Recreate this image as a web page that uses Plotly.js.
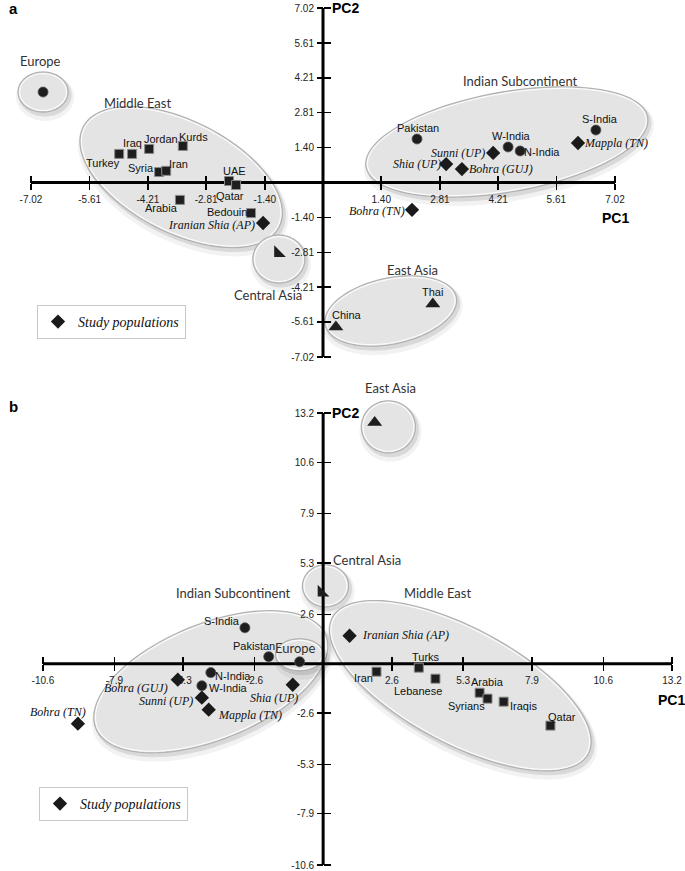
<!DOCTYPE html>
<html>
<head>
<meta charset="utf-8">
<script src="https://cdn.plot.ly/plotly-3.0.1.min.js"></script>
<style>
  html, body { margin: 0; padding: 0; background: #fff; }
  #chart { width: 685px; height: 871px; }
</style>
</head>
<body>
<div id="chart"></div>
<script>
const W = 685, H = 871;

// ---------- panel a ----------
const aTicks = ["-7.02", "-5.61", "-4.21", "-2.81", "-1.40", "1.40", "2.81", "4.21", "5.61", "7.02"];

const aSquareNames = ["Turkey", "Iraq", "Jordan", "Kurds", "Syria", "Iran", "UAE", "Qatar", "Arabia", "Bedouin"];
const aSquarePC1 = [-4.90, -4.59, -4.18, -3.37, -3.94, -3.77, -2.26, -2.09, -3.44, -1.73];
const aSquarePC2 = [1.15, 1.15, 1.35, 1.47, 0.42, 0.47, 0.06, -0.10, -0.70, -1.23];

const aCircleNames = ["Europe", "Pakistan", "W-India", "N-India", "S-India"];
const aCirclePC1 = [-6.73, 2.26, 4.45, 4.74, 6.56];
const aCirclePC2 = [3.64, 1.75, 1.43, 1.27, 2.11];

const aTriNames = ["China", "Thai"];
const aTriPC1 = [0.31, 2.64];
const aTriPC2 = [-5.81, -4.89];

const aCentralPC1 = [-1.08];
const aCentralPC2 = [-2.84];

const aStudyNames = ["Iranian Shia (AP)", "Bohra (TN)", "Mappla (TN)", "Sunni (UP)", "Shia (UP)", "Bohra (GUJ)"];
const aStudyPC1 = [-1.44, 2.14, 6.13, 4.09, 2.96, 3.34];
const aStudyPC2 = [-1.63, -1.10, 1.59, 1.19, 0.74, 0.54];

// ---------- panel b ----------
const bTicks = ["-10.6", "-7.9", "-5.3", "-2.6", "2.6", "5.3", "7.9", "10.6", "13.2"];

const bSquareNames = ["Iran", "Turks", "Lebanese", "Arabia", "Syrians", "Iraqis", "Qatar"];
const bSquarePC1 = [2.02, 3.62, 4.25, 5.92, 6.22, 6.83, 8.60];
const bSquarePC2 = [-0.42, -0.21, -0.79, -1.53, -1.84, -2.00, -3.26];

const bCircleNames = ["Europe", "Pakistan", "S-India", "N-India", "W-India"];
const bCirclePC1 = [-0.89, -2.06, -2.96, -4.25, -4.59];
const bCirclePC2 = [0.10, 0.37, 1.89, -0.47, -1.16];

const bTriPC1 = [1.95];
const bTriPC2 = [12.70];

const bCentralPC1 = [-0.06];
const bCentralPC2 = [3.74];

const bStudyNames = ["Iranian Shia (AP)", "Bohra (GUJ)", "Sunni (UP)", "Mappla (TN)", "Shia (UP)", "Bohra (TN)"];
const bStudyPC1 = [1.00, -5.50, -4.59, -4.33, -1.15, -9.28];
const bStudyPC2 = [1.47, -0.84, -1.79, -2.42, -1.11, -3.16];

// label offsets from each marker, in pixels [right, down] (kept apart from the values)
const aSquareOff = [[-16, 9], [0, -11], [12, -10], [11, -9], [-18, -4], [12, -7], [6, -10], [-6, 11], [-18, 8], [-24, -1]];
const aCircleOff = [[0, 0], [1, -11], [3, -11], [22, 1], [4, -11]];
const aTriOff = [[11, -12], [0, -12]];
const aStudyOff = [[-52, 2], [-35, 1], [38, 0], [-35, 0], [-29, 0], [39, 0]];
const bSquareOff = [[-13, 6], [7, -11], [-17, 12], [8, -11], [-21, 7], [20, 4], [12, -9]];
const bCircleOff = [[0, 0], [-15, -11], [-23, -7], [22, 3], [27, 2]];
const bStudyOff = [[56, -1], [-42, 8], [-36, 3], [41, 5], [-19, 13], [-20, -12]];

// group areas: centre in data units, half-axes in pixels, tilt in degrees
const aRegions = [
  { name: "Europe", cx: -6.73, cy: 3.64, rx: 25, ry: 20, tilt: 0, lx: -6.80, ly: 4.89 },
  { name: "Middle East", cx: -3.41, cy: 0.22, rx: 110, ry: 56, tilt: 27, lx: -4.45, ly: 3.20 },
  { name: "Indian Subcontinent", cx: 4.42, cy: 1.63, rx: 143, ry: 50, tilt: -10, lx: 4.74, ly: 4.08 },
  { name: "Central Asia", cx: -1.06, cy: -3.08, rx: 26, ry: 24, tilt: 0, lx: -1.32, ly: -4.53 },
  { name: "East Asia", cx: 1.63, cy: -5.17, rx: 67, ry: 33, tilt: -12, lx: 2.16, ly: -3.52 }
];
const bRegions = [
  { name: "East Asia", cx: 2.47, cy: 12.47, rx: 27, ry: 26, tilt: 0, lx: 2.55, ly: 14.53 },
  { name: "Central Asia", cx: 0.09, cy: 4.10, rx: 23, ry: 21, tilt: 0, lx: 0.28, ly: 5.47, align: "left" },
  { name: "Indian Subcontinent", cx: -4.25, cy: -0.95, rx: 124, ry: 58, tilt: -22, lx: -3.38, ly: 3.74 },
  { name: "Middle East", cx: 5.19, cy: -1.16, rx: 145, ry: 58, tilt: 28, lx: 4.33, ly: 3.74 },
  { name: "Europe", cx: -0.89, cy: 0.47, rx: 24, ry: 16, tilt: 0, lx: -1.04, ly: 0.84 }
];

// pixel frame of each panel: where the end ticks sit and the vertical box of the panel
const A = { xPx: [31, 615], yPx: [357, 8], box: [0, 380] };
const B = { xPx: [43, 672], yPx: [865, 413], box: [385, 871] };

function xRange(ticks, px) {
  const lo = Number(ticks[0]), hi = Number(ticks.at(-1));
  const k = (px[1] - px[0]) / (hi - lo);
  return [lo - px[0] / k, hi + (W - px[1]) / k];
}
function yRange(ticks, px, box) {
  const lo = Number(ticks[0]), hi = Number(ticks.at(-1));
  const k = (px[0] - px[1]) / (hi - lo);
  return [lo - (box[1] - px[0]) / k, hi + (px[1] - box[0]) / k];
}

const sans = "Liberation Sans, Arial, sans-serif";
const tickFont = { family: sans, size: 10, color: "#222" };
function axis(range, ticks, position, inside, extra = {}) {
  return {
    range, anchor: "free", position,
    tickmode: "array", tickvals: ticks.map(Number), ticktext: ticks,
    ticks: inside ? "inside" : "outside", ticklen: inside ? 7 : 6, tickwidth: 1.5, tickcolor: "#000",
    showticklabels: !inside, tickfont: tickFont, ticklabelstandoff: 1,
    showgrid: false, zeroline: false, showline: false, fixedrange: true,
    ...extra
  };
}

function ellipsePath(rx, ry, tilt, dx = 0, dy = 0) {
  const t = tilt * Math.PI / 180, c = Math.cos(t), s = Math.sin(t);
  let d = "";
  for (let i = 0; i <= 96; i++) {
    const u = i / 96 * 2 * Math.PI;
    const ex = rx * Math.cos(u), ey = ry * Math.sin(u);
    const x = ex * c - ey * s + dx;
    const yScreen = ex * s + ey * c + dy;
    d += (i ? "L" : "M") + x.toFixed(2) + "," + (-yScreen).toFixed(2);
  }
  return d + "Z";
}

function regionShapes(regions, xref, yref) {
  const out = [];
  regions.forEach(r => {
    const base = { type: "path", xref, yref, xsizemode: "pixel", ysizemode: "pixel", xanchor: r.cx, yanchor: r.cy, layer: "below" };
    out.push({ ...base, path: ellipsePath(r.rx + 4, r.ry + 4, r.tilt, 2, 5), fillcolor: "rgba(0,0,0,0.05)", line: { width: 0 } });
    out.push({ ...base, path: ellipsePath(r.rx + 1.5, r.ry + 1.5, r.tilt, 2, 3), fillcolor: "rgba(0,0,0,0.10)", line: { width: 0 } });
    out.push({ ...base, path: ellipsePath(r.rx, r.ry, r.tilt), fillcolor: "#e4e4e4", line: { color: "#b2b2b2", width: 1.3 } });
    out.push({ ...base, path: ellipsePath(r.rx - 1.6, r.ry - 1.6, r.tilt), fillcolor: "rgba(0,0,0,0)", line: { color: "#fbfbfb", width: 1.2 } });
  });
  return out;
}

function axisLines(ticks, xref, yref) {
  const lo = Number(ticks[0]), hi = Number(ticks.at(-1));
  return [
    { type: "line", xref, yref, x0: lo, x1: hi, y0: 0, y1: 0, line: { color: "#000", width: 3 }, layer: "below" },
    { type: "line", xref, yref, x0: 0, x1: 0, y0: lo, y1: hi, line: { color: "#000", width: 3 }, layer: "below" }
  ];
}

function regionLabels(regions, xref, yref) {
  return regions.map(r => ({
    x: r.lx, y: r.ly, xref, yref, text: r.name, showarrow: false,
    xanchor: r.align || "center", yanchor: "middle",
    font: { family: "Lato, Open Sans, sans-serif", size: 13, color: "#333" }
  }));
}

const refFont = { family: sans, size: 11, color: "#111" };
const studyFont = { family: "Liberation Serif, Times New Roman, serif", size: 12, color: "#111", style: "italic" };
const markers = {
  square: { symbol: "square", size: 9, color: "#1e1e1e", line: { color: "#8a8a8a", width: 1 } },
  circle: { symbol: "circle", size: 10, color: "#1e1e1e", line: { color: "#555", width: 0.8 } },
  tri: { symbol: "triangle-up", size: 13, color: "#1e1e1e", line: { width: 0 } },
  corner: { symbol: "triangle-sw", size: 13, color: "#1e1e1e", line: { width: 0 } },
  diamond: { symbol: "diamond", size: 11, color: "#1a1a1a", line: { width: 0 } }
};

function pts(sub, xs, ys, marker, extra = {}) {
  return {
    type: "scatter", mode: "markers", x: xs, y: ys, xaxis: sub[0], yaxis: sub[1],
    marker, cliponaxis: false, hoverinfo: "skip", showlegend: false, ...extra
  };
}

function pointLabels(xs, ys, names, offs, font, xref, yref) {
  return names.map((n, i) => (n === "Europe" ? null : {
    x: xs[i], y: ys[i], xref, yref, text: n, showarrow: false,
    xanchor: "center", yanchor: "middle", xshift: offs[i][0], yshift: -offs[i][1], font
  })).filter(Boolean);
}

const xrA = xRange(aTicks, A.xPx), yrA = yRange(aTicks, A.yPx, A.box);
const xrB = xRange(bTicks, B.xPx), yrB = yRange(bTicks, B.yPx, B.box);
const domA = [1 - A.box[1] / H, 1 - A.box[0] / H];
const domB = [1 - B.box[1] / H, 1 - B.box[0] / H];
const posXA = domA[0] + (0 - yrA[0]) / (yrA[1] - yrA[0]) * (domA[1] - domA[0]);
const posYA = (0 - xrA[0]) / (xrA[1] - xrA[0]);
const posXB = domB[0] + (0 - yrB[0]) / (yrB[1] - yrB[0]) * (domB[1] - domB[0]);
const posYB = (0 - xrB[0]) / (xrB[1] - xrB[0]);

const studyLegendFont = { family: "Liberation Serif, Times New Roman, serif", size: 14, color: "#111", style: "italic" };

const traces = [
  pts(["x", "y"], aSquarePC1, aSquarePC2, markers.square),
  pts(["x", "y"], aCirclePC1, aCirclePC2, markers.circle),
  pts(["x", "y"], aTriPC1, aTriPC2, markers.tri),
  pts(["x", "y"], aCentralPC1, aCentralPC2, markers.corner),
  pts(["x", "y"], aStudyPC1, aStudyPC2, markers.diamond, { name: "Study populations", showlegend: true, legend: "legend" }),
  pts(["x2", "y2"], bSquarePC1, bSquarePC2, markers.square),
  pts(["x2", "y2"], bCirclePC1, bCirclePC2, markers.circle),
  pts(["x2", "y2"], bTriPC1, bTriPC2, markers.tri),
  pts(["x2", "y2"], bCentralPC1, bCentralPC2, markers.corner),
  pts(["x2", "y2"], bStudyPC1, bStudyPC2, markers.diamond, { name: "Study populations", showlegend: true, legend: "legend2" }),
  // empty traces so the overlaid tick axes get drawn
  { type: "scatter", x: [], y: [], xaxis: "x3", yaxis: "y3", showlegend: false, hoverinfo: "skip" },
  { type: "scatter", x: [], y: [], xaxis: "x4", yaxis: "y4", showlegend: false, hoverinfo: "skip" }
];

const pcFont = { family: sans, size: 14, color: "#000", weight: "bold" };
const panelFont = { family: sans, size: 15, color: "#000", weight: "bold" };

const annotations = [
  ...regionLabels(aRegions, "x", "y"),
  ...regionLabels(bRegions, "x2", "y2"),
  ...pointLabels(aSquarePC1, aSquarePC2, aSquareNames, aSquareOff, refFont, "x", "y"),
  ...pointLabels(aCirclePC1, aCirclePC2, aCircleNames, aCircleOff, refFont, "x", "y"),
  ...pointLabels(aTriPC1, aTriPC2, aTriNames, aTriOff, refFont, "x", "y"),
  ...pointLabels(aStudyPC1, aStudyPC2, aStudyNames, aStudyOff, studyFont, "x", "y"),
  ...pointLabels(bSquarePC1, bSquarePC2, bSquareNames, bSquareOff, refFont, "x2", "y2"),
  ...pointLabels(bCirclePC1, bCirclePC2, bCircleNames, bCircleOff, refFont, "x2", "y2"),
  ...pointLabels(bStudyPC1, bStudyPC2, bStudyNames, bStudyOff, studyFont, "x2", "y2"),
  { x: 0, y: Number(aTicks.at(-1)), xref: "x", yref: "y", text: "<b>PC2</b>", showarrow: false, xanchor: "left", yanchor: "middle", xshift: 7, font: pcFont },
  { x: Number(aTicks.at(-1)), y: 0, xref: "x", yref: "y", text: "<b>PC1</b>", showarrow: false, xanchor: "center", yanchor: "middle", yshift: -35, font: pcFont },
  { x: 0, y: Number(bTicks.at(-1)), xref: "x2", yref: "y2", text: "<b>PC2</b>", showarrow: false, xanchor: "left", yanchor: "middle", xshift: 7, font: pcFont },
  { x: Number(bTicks.at(-1)), y: 0, xref: "x2", yref: "y2", text: "<b>PC1</b>", showarrow: false, xanchor: "center", yanchor: "middle", yshift: -36, xshift: -1, font: pcFont },
  { x: 13 / W, y: 1 - 8 / H, xref: "paper", yref: "paper", text: "<b>a</b>", showarrow: false, xanchor: "center", yanchor: "middle", font: panelFont },
  { x: 13 / W, y: 1 - 406 / H, xref: "paper", yref: "paper", text: "<b>b</b>", showarrow: false, xanchor: "center", yanchor: "middle", font: panelFont }
];

const legendBase = {
  xanchor: "left", yanchor: "top", bgcolor: "#fff", bordercolor: "#c8c8c8", borderwidth: 1,
  font: studyLegendFont, itemwidth: 30, tracegroupgap: 0
};

const layout = {
  width: W, height: H,
  margin: { l: 0, r: 0, t: 0, b: 0 },
  paper_bgcolor: "#fff", plot_bgcolor: "#fff",
  xaxis: axis(xrA, aTicks, posXA, false, { domain: [0, 1] }),
  yaxis: axis(yrA, aTicks, posYA, false, { domain: domA }),
  xaxis3: axis(xrA, aTicks, posXA, true, { overlaying: "x" }),
  yaxis3: axis(yrA, aTicks, posYA, true, { overlaying: "y" }),
  xaxis2: axis(xrB, bTicks, posXB, false, { domain: [0, 1] }),
  yaxis2: axis(yrB, bTicks, posYB, false, { domain: domB }),
  xaxis4: axis(xrB, bTicks, posXB, true, { overlaying: "x2" }),
  yaxis4: axis(yrB, bTicks, posYB, true, { overlaying: "y2" }),
  shapes: [
    ...regionShapes(aRegions, "x", "y"), ...axisLines(aTicks, "x", "y"),
    ...regionShapes(bRegions, "x2", "y2"), ...axisLines(bTicks, "x2", "y2")
  ],
  annotations,
  legend: { ...legendBase, x: 37 / W, y: 1 - 305 / H },
  legend2: { ...legendBase, x: 39 / W, y: 1 - 787 / H },
  showlegend: true
};

Plotly.newPlot("chart", traces, layout, { displayModeBar: false, staticPlot: true });
</script>
</body>
</html>
